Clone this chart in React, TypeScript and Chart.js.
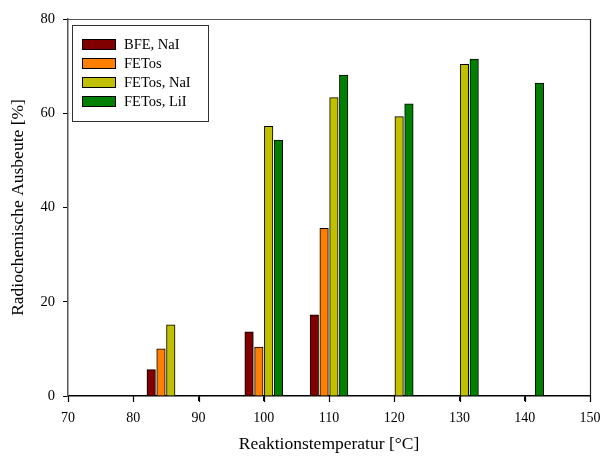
import React, { useEffect, useRef } from "react";
import { Chart, registerables } from "chart.js";

Chart.register(...registerables);

const temperatures = [85, 100, 110, 120, 130, 140];
const seriesNames = ["BFE, NaI", "FETos", "FETos, NaI", "FETos, LiI"];
const bfeNaI = [5.6, 13.6, 17.2, null, null, null];
const fetos = [10.0, 10.4, 35.6, null, null, null];
const fetosNaI = [15.1, 57.2, 63.3, 59.3, 70.4, null];
const fetosLiI = [null, 54.3, 68.1, 62.0, 71.5, 66.4];
const xTicks = [70, 80, 90, 100, 110, 120, 130, 140, 150];
const yTicks = [0, 20, 40, 60, 80];

const colors = ["#800000", "#FF8000", "#C0C000", "#008000"];
const offsets = [-2.25, -0.75, 0.75, 2.25];
const FONT = "'Liberation Serif', 'Times New Roman', serif";

export default function App() {
  const ref = useRef<HTMLCanvasElement | null>(null);
  useEffect(() => {
    if (!ref.current) return;
    const allSeries = [bfeNaI, fetos, fetosNaI, fetosLiI];
    const datasets = allSeries.map((vals, s) => ({
      label: seriesNames[s],
      data: temperatures
        .map((t, i) => (vals[i] == null ? null : { x: t + offsets[s], y: vals[i] as number }))
        .filter((p) => p !== null) as { x: number; y: number }[],
      backgroundColor: colors[s],
      borderColor: "#000",
      borderWidth: 1,
      borderSkipped: "bottom" as const,
      barThickness: 8.5,
      grouped: false,
    }));

    const framePlugin = {
      id: "frame",
      afterDraw(chart: any) {
        const { ctx, chartArea } = chart;
        const { left, right, top, bottom } = chartArea;
        ctx.save();
        ctx.strokeStyle = "#555";
        ctx.lineWidth = 1.2;
        ctx.beginPath();
        ctx.moveTo(left, top + 0.5);
        ctx.lineTo(right, top + 0.5);
        ctx.stroke();
        ctx.strokeStyle = "#222";
        ctx.beginPath();
        ctx.moveTo(right + 0.5, top);
        ctx.lineTo(right + 0.5, bottom);
        ctx.stroke();
        // x tick marks
        const xs = chart.scales.x;
        ctx.strokeStyle = "#000";
        ctx.lineWidth = 1.2;
        xTicks.forEach((v) => {
          const px = Math.round(xs.getPixelForValue(v)) + 0.5;
          ctx.beginPath();
          ctx.moveTo(px, bottom);
          ctx.lineTo(px, bottom + 6);
          ctx.stroke();
        });
        // legend
        const bx = 72, by = 25, bw = 136, bh = 96;
        ctx.fillStyle = "#fff";
        ctx.fillRect(bx, by, bw, bh);
        ctx.strokeStyle = "#333";
        ctx.lineWidth = 1;
        ctx.strokeRect(bx + 0.5, by + 0.5, bw, bh);
        ctx.font = `14.5px ${FONT}`;
        ctx.textBaseline = "middle";
        ctx.textAlign = "left";
        seriesNames.forEach((name, i) => {
          const cy = 44.5 + i * 19;
          ctx.fillStyle = colors[i];
          ctx.fillRect(82.5, cy - 5, 33, 10);
          ctx.strokeStyle = "#000";
          ctx.strokeRect(82.5, cy - 5, 33, 10);
          ctx.fillStyle = "#000";
          ctx.fillText(name, 124, cy + 1);
        });
        ctx.restore();
      },
    };

    const chart = new Chart(ref.current, {
      type: "bar",
      data: { datasets },
      options: {
        animation: false,
        responsive: false,
        maintainAspectRatio: false,
        layout: { padding: { top: 19, right: 11, left: 0, bottom: 0 } },
        plugins: { legend: { display: false }, tooltip: { enabled: false } },
        scales: {
          x: {
            type: "linear",
            min: 70,
            max: 150,
            offset: false,
            afterBuildTicks: (scale: any) => {
              scale.ticks = xTicks.map((v) => ({ value: v }));
            },
            afterFit: (scale: any) => {
              scale.height = 61;
              scale.paddingLeft = 0;
              scale.paddingRight = 0;
            },
            grid: {
              display: true,
              offset: false,
              drawOnChartArea: false,
              drawTicks: true,
              tickLength: 5,
              color: "#000",
            },
            border: { display: true, color: "#000", width: 1.5 },
            ticks: {
              color: "#000",
              font: { family: FONT, size: 14 },
              padding: 9,
              maxRotation: 0,
              autoSkip: false,
            },
            title: {
              display: true,
              text: "Reaktionstemperatur [°C]",
              color: "#000",
              font: { family: FONT, size: 17.5 },
              padding: { top: 0, bottom: 2.5 },
            },
          },
          y: {
            type: "linear",
            min: 0,
            max: 80,
            afterBuildTicks: (scale: any) => {
              scale.ticks = yTicks.map((v) => ({ value: v }));
            },
            afterFit: (scale: any) => {
              scale.width = 68;
              scale.paddingTop = 0;
              scale.paddingBottom = 0;
            },
            grid: {
              display: true,
              drawOnChartArea: false,
              drawTicks: true,
              tickLength: 5,
              color: "#000",
            },
            border: { display: true, color: "#555", width: 1.5 },
            ticks: {
              color: "#000",
              font: { family: FONT, size: 14.5 },
              padding: 8,
              autoSkip: false,
            },
            title: {
              display: true,
              text: "Radiochemische Ausbeute [%]",
              color: "#000",
              font: { family: FONT, size: 17.5 },
              padding: { top: 7.5, bottom: 0 },
            },
          },
        },
      },
      plugins: [framePlugin],
    });
    return () => chart.destroy();
  }, []);

  return (
    <div style={{ position: "fixed", left: 0, top: 0, width: 601, height: 457, background: "#fff" }}>
      <canvas ref={ref} width={601} height={457} style={{ width: 601, height: 457 }} />
    </div>
  );
}
